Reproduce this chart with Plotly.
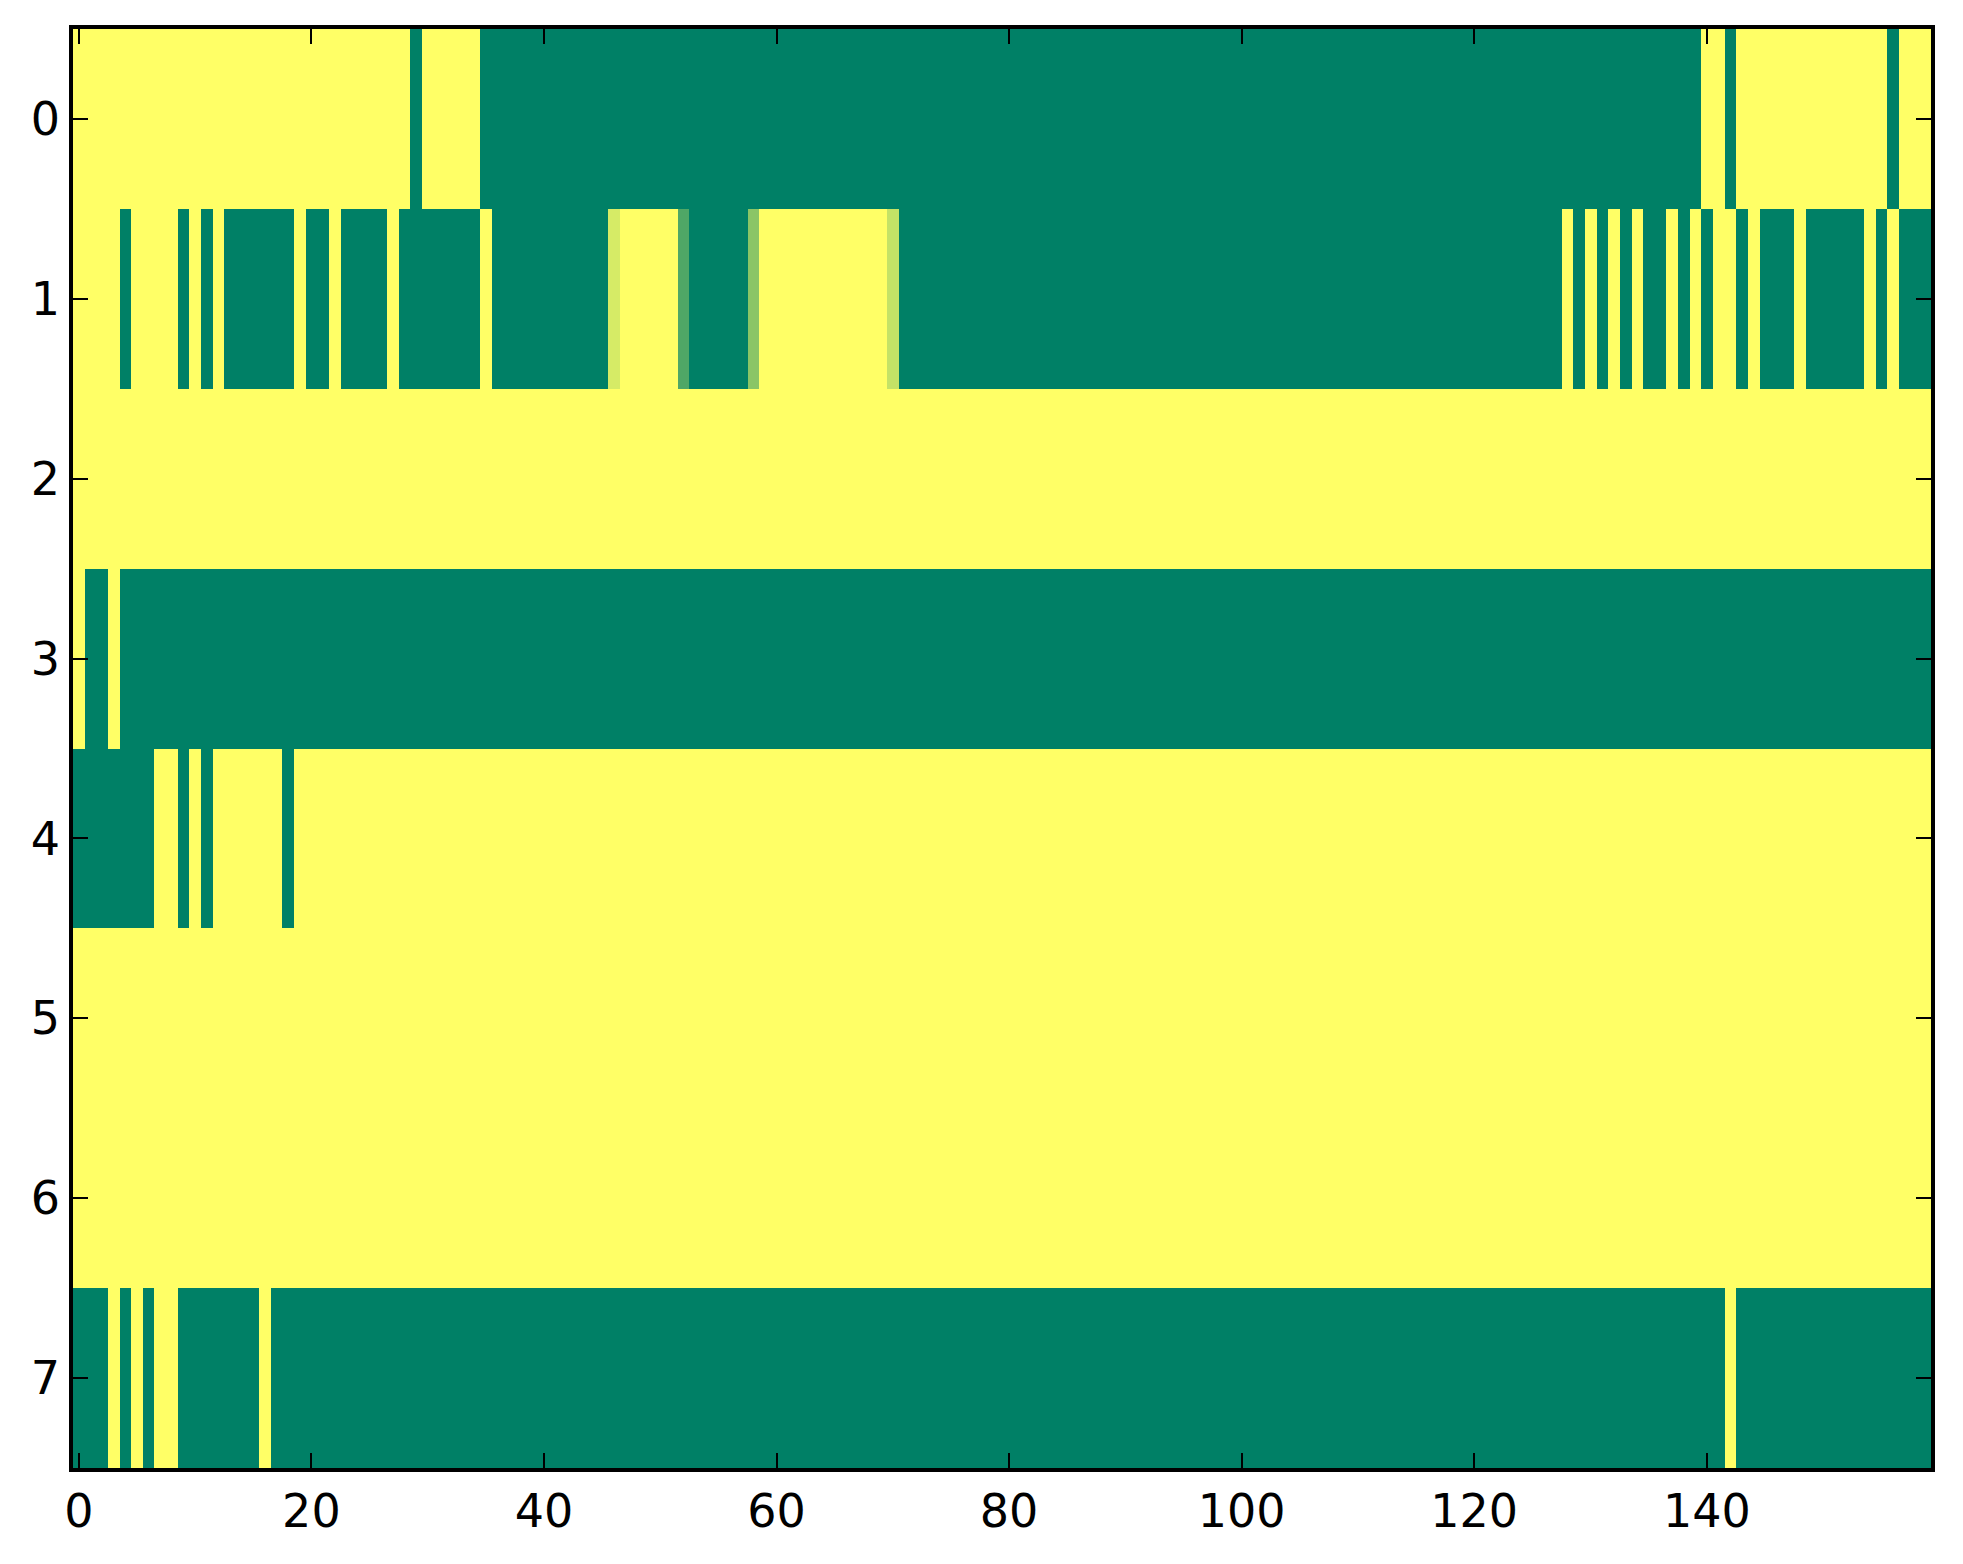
import plotly.graph_objects as go

# values: 1 = yellow end of "summer" colormap, 0 = green end
row0 = [1]*29 + [0] + [1]*5 + [0]*105 + [1]*2 + [0] + [1]*13 + [0] + [1]*3
row1 = ([1]*4 + [0] + [1]*4 + [0] + [1] + [0] + [1] + [0]*6 + [1] + [0]*2 + [1] + [0]*4 + [1]
        + [0]*7 + [1] + [0]*10 + [0.84] + [1]*5 + [0.31] + [0]*5 + [0.54] + [1]*11 + [0.77]
        + [0]*57
        + [1, 0, 1, 0, 1, 0, 1, 0, 0, 1, 0, 1, 0, 1, 1, 0, 1, 0, 0, 0, 1, 0, 0, 0, 0, 0, 1, 0, 1, 0, 0, 0])
row2 = [1]*160
row3 = [1, 0, 0, 1] + [0]*156
row4 = [0]*7 + [1]*2 + [0] + [1] + [0] + [1]*6 + [0] + [1]*141
row5 = [1]*160
row6 = [1]*160
row7 = [0]*3 + [1] + [0] + [1] + [0] + [1]*2 + [0]*7 + [1] + [0]*125 + [1] + [0]*17

rows = [row0, row1, row2, row3, row4, row5, row6, row7]
row_idx = list(range(8))
col_idx = list(range(160))
x_ticks = [0, 20, 40, 60, 80, 100, 120, 140]

summer = [[0.0, "rgb(0,128,102)"], [1.0, "rgb(255,255,102)"]]

fig = go.Figure(go.Heatmap(
    z=rows, x=col_idx, y=row_idx,
    colorscale=summer, zmin=0, zmax=1, showscale=False,
))

axis_common = dict(
    showline=True, linecolor="black", linewidth=3.5, mirror="ticks",
    ticks="inside", ticklen=15, tickwidth=1.8, tickcolor="black",
    showgrid=False, zeroline=False,
    tickfont=dict(family="DejaVu Sans", size=46, color="black"),
)

fig.update_layout(
    width=1963, height=1564,
    margin=dict(l=65, r=40, t=21, b=104),
    paper_bgcolor="white", plot_bgcolor="white",
    xaxis=dict(range=[-0.5, 159.28], tickvals=x_ticks, **axis_common),
    yaxis=dict(range=[7.5, -0.5], tickvals=row_idx, **axis_common),
)

fig.write_html("out.html")
